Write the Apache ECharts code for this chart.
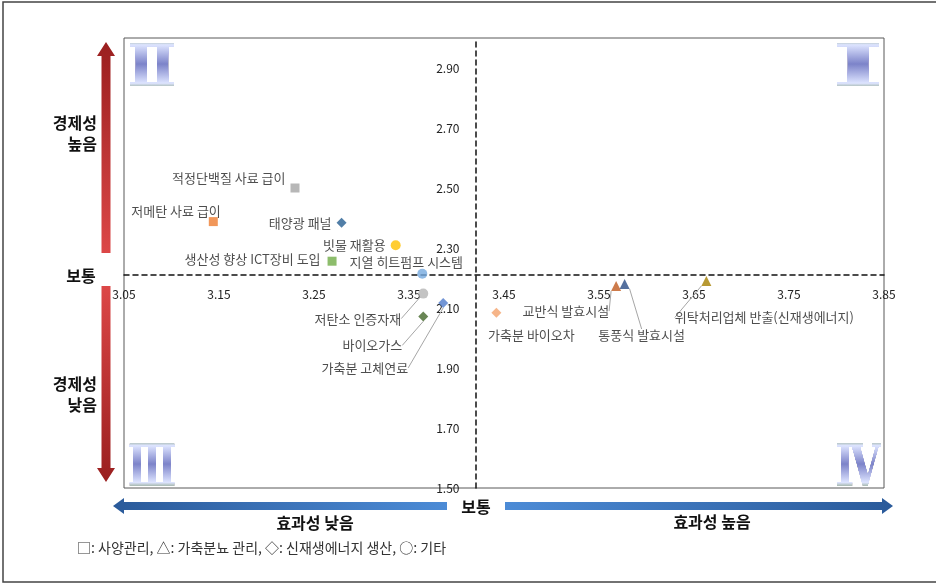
<!DOCTYPE html>
<html><head><meta charset="utf-8">
<script src="https://cdn.jsdelivr.net/npm/echarts@6/dist/echarts.min.js"></script>
<style>html,body{margin:0;padding:0;background:#fff}#c{width:936px;height:585px}</style>
</head><body><div id="c"></div>
<script>
// ---------- data ----------
const names = ['적정단백질 사료 급이','저메탄 사료 급이','태양광 패널','빗물 재활용','생산성 향상 ICT장비 도입','지열 히트펌프 시스템','저탄소 인증자재','바이오가스','가축분 고체연료','가축분 바이오차','교반식 발효시설','통풍식 발효시설','위탁처리업체 반출(신재생에너지)'];
const groups = ['사양관리','사양관리','신재생에너지 생산','기타','사양관리','기타','기타','신재생에너지 생산','신재생에너지 생산','신재생에너지 생산','가축분뇨 관리','가축분뇨 관리','가축분뇨 관리'];
const effectiveness = [3.230, 3.144, 3.279, 3.336, 3.269, 3.364, 3.365, 3.365, 3.386, 3.442, 3.568, 3.577, 3.663];
const economy       = [2.500, 2.388, 2.384, 2.309, 2.256, 2.214, 2.148, 2.072, 2.117, 2.084, 2.173, 2.180, 2.190];
const xRange = [3.05, 3.85], xStep = 0.1;
const yRange = [1.5, 3.0], yStep = 0.2;
const crossing = { x: 3.42, y: 2.21 };
const groupNames = ['사양관리','가축분뇨 관리','신재생에너지 생산','기타'];
const groupMarks = ['□','△','◇','○'];
const quadrantNames = ['Ⅰ','Ⅱ','Ⅲ','Ⅳ'];

// ---------- styles ----------
const groupSymbol = {'사양관리':'rect','가축분뇨 관리':'triangle','신재생에너지 생산':'diamond','기타':'circle'};
const groupSize = {'사양관리':9,'가축분뇨 관리':10,'신재생에너지 생산':10,'기타':10};
const colors = ['#A5A5A5','#ED7D31','#255E91','#FFC000','#70AD47','#74A9DE','#B4B4B4','#43682B','#4F7BCB','#F4A26B','#C05A1E','#2B4C86','#A57F00'];
// [position, dx, dy, leader]
const labelPlace = [
  ['left',0,-10,false],['left',17,-11,false],['left',0,0,false],['left',0,0,false],
  ['left',-2,-2,false],['top',-16,5,false],['left',-12,25,true],['left',-11,29,true],
  ['left',-25,65,true],['bottom',35,6,false],['left',3,25,true],['bottom',17,35,true],
  ['bottom',58,20,true]
];
const G = { left:124, top:38, width:760, height:450 };
const FONT = '"Noto Sans CJK KR", "Noto Sans", sans-serif';

const chart = echarts.init(document.getElementById('c'), null, {renderer:'canvas'});

const data = names.map((n,i)=>({
  name:n, value:[effectiveness[i], economy[i]],
  symbol: groupSymbol[groups[i]], symbolSize: groupSize[groups[i]],
  itemStyle:{color:colors[i]},
  label:{show:true, position:labelPlace[i][0], distance:5},
  labelLine:{show:labelPlace[i][3], lineStyle:{color:'#A6A6A6', width:1}}
}));

const xOffset = -(crossing.y - yRange[0])/(yRange[1]-yRange[0])*G.height;
const yOffset = -(crossing.x - xRange[0])/(xRange[1]-xRange[0])*G.width;

// quadrant numeral: black glyph, then a gradient box drawn with 'lighten' blend tints it
function roman(t, x, y, sx, h){
  const w = 48;
  return [
    {type:'text', x:x, y:y+7, scaleX:sx, z:1, silent:true,
      style:{text:t, font:'bold 58px "DejaVu Serif"', fill:'#000', textAlign:'center', textVerticalAlign:'middle'}},
    {type:'rect', z:2, silent:true, shape:{x:x-w/2, y:y-h/2, width:w, height:h},
      style:{blend:'lighten', fill:new echarts.graphic.LinearGradient(0,0,0,1,[
        {offset:0,color:'#98ad98'},{offset:0.1,color:'#dde4ff'},{offset:0.5,color:'#7c83c9'},{offset:0.9,color:'#dde4ff'},{offset:1,color:'#98ad98'}])}}
  ];
}
function vArrow(cx, y0, y1, up){
  const hw=4.5, hh=9, hl=14;
  let pts;
  if(up){ pts=[[cx,y0],[cx+hh,y0+hl],[cx+hw,y0+hl],[cx+hw,y1],[cx-hw,y1],[cx-hw,y0+hl],[cx-hh,y0+hl]]; }
  else { pts=[[cx-hw,y0],[cx+hw,y0],[cx+hw,y1-hl],[cx+hh,y1-hl],[cx,y1],[cx-hh,y1-hl],[cx-hw,y1-hl]]; }
  return {type:'polygon', silent:true, shape:{points:pts}, style:{fill:new echarts.graphic.LinearGradient(0,0,0,1, up?
    [{offset:0,color:'#9A1F1F'},{offset:1,color:'#DC4747'}]:[{offset:0,color:'#DC4747'},{offset:1,color:'#9A1F1F'}])}};
}
function hArrow(cy, x0, x1, left){
  const hw=4, hh=8, hl=11;
  let pts;
  if(left){ pts=[[x0,cy],[x0+hl,cy-hh],[x0+hl,cy-hw],[x1,cy-hw],[x1,cy+hw],[x0+hl,cy+hw],[x0+hl,cy+hh]]; }
  else { pts=[[x0,cy-hw],[x1-hl,cy-hw],[x1-hl,cy-hh],[x1,cy],[x1-hl,cy+hh],[x1-hl,cy+hw],[x0,cy+hw]]; }
  return {type:'polygon', silent:true, shape:{points:pts}, style:{fill:new echarts.graphic.LinearGradient(0,0,1,0, left?
    [{offset:0,color:'#2A5A9A'},{offset:1,color:'#4C8BD6'}]:[{offset:0,color:'#4C8BD6'},{offset:1,color:'#2A5A9A'}])}};
}
function boldText(t, x, y, align){
  return {type:'text', x:x, y:y, style:{text:t, font:'bold 16px '+FONT, fill:'#111', textAlign:align||'center', textVerticalAlign:'middle', lineHeight:21}};
}
const legendStr = groupNames.map((g,i)=>groupMarks[i]+': '+g).join(', ');

chart.setOption({
  animation:false,
  backgroundColor:'#fff',
  grid:{left:G.left, top:G.top, width:G.width, height:G.height, show:true, borderColor:'#595959', borderWidth:1, containLabel:false},
  xAxis:{type:'value', min:xRange[0], max:xRange[1], interval:xStep, position:'bottom', offset:xOffset,
    axisLine:{onZero:false, lineStyle:{color:'#111', width:1.5, type:[5,4]}},
    axisTick:{show:false}, splitLine:{show:false},
    axisLabel:{margin:13, color:'#222', fontSize:12, fontFamily:FONT, formatter:v=>v.toFixed(2)}},
  yAxis:{type:'value', min:yRange[0], max:yRange[1], interval:yStep, position:'left', offset:yOffset,
    axisLine:{onZero:false, lineStyle:{color:'#111', width:1.5, type:[5,4]}},
    axisTick:{show:false}, splitLine:{show:false},
    axisLabel:{margin:16, color:'#222', fontSize:12, fontFamily:FONT, showMaxLabel:false, formatter:v=>v.toFixed(2)}},
  series:[{
    type:'scatter', data:data, z:5,
    label:{color:'#222', fontSize:13, fontFamily:FONT, formatter:'{b}'},
    labelLine:{show:false, lineStyle:{color:'#A6A6A6', width:1}},
    labelLayout:function(p){ const L=labelPlace[p.dataIndex]; return {dx:L[1], dy:L[2]}; }
  }],
  graphic:[
    {type:'rect', silent:true, shape:{x:3,y:2,width:940,height:580}, style:{fill:null, stroke:'#444', lineWidth:1.5}},
    ...roman(quadrantNames[1], 152, 64, 1.0, 48),
    ...roman(quadrantNames[0], 858, 64, 1.9, 48),
    ...roman(quadrantNames[2], 152, 464, 0.68, 46),
    ...roman(quadrantNames[3], 858, 464, 0.68, 46),
    vArrow(106, 42, 253, true),
    vArrow(106, 286, 482, false),
    hArrow(506, 113, 447, true),
    hArrow(506, 505, 893, false),
    boldText('경제성\n높음', 97, 133, 'right'),
    boldText('보통', 81, 276, 'center'),
    boldText('경제성\n낮음', 97, 394, 'right'),
    boldText('보통', 476, 507, 'center'),
    boldText('효과성 낮음', 315, 523, 'center'),
    boldText('효과성 높음', 712, 522, 'center'),
    {type:'text', x:77, y:548, style:{text:legendStr, font:'14px '+FONT, fill:'#333', textAlign:'left', textVerticalAlign:'middle'}}
  ]
});
</script></body></html>
